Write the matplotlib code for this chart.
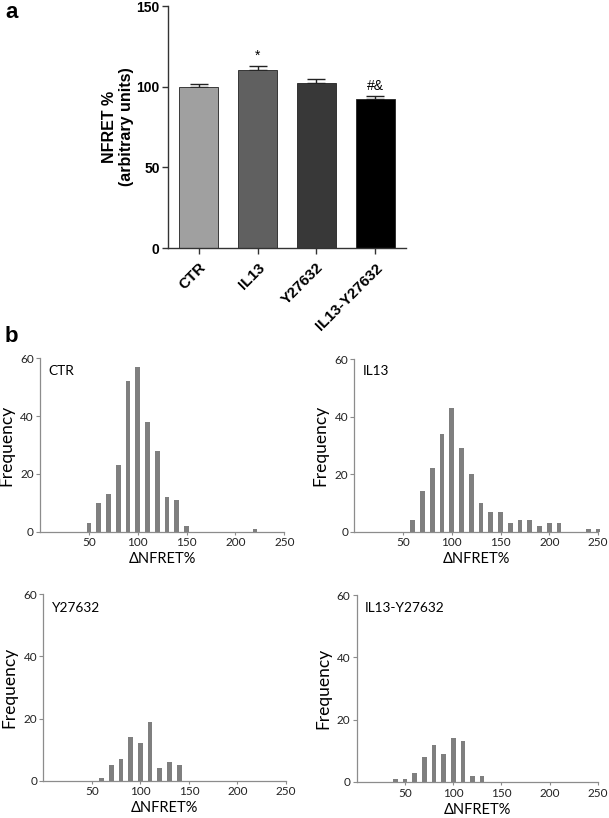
import matplotlib
matplotlib.use("Agg")
import matplotlib.pyplot as plt
import numpy as np

# ---- Panel a data ----
groups = ["CTR", "IL13", "Y27632", "IL13-Y27632"]
means = [100.0, 110.1, 102.3, 92.2]
sems = [1.5, 2.7, 2.3, 2.2]
bar_colors = ["#a0a0a0", "#606060", "#383838", "#000000"]
annotations = ["", "*", "", "#&"]

# ---- Panel b data (histograms) ----
ctr_bins = [50, 60, 70, 80, 90, 100, 110, 120, 130, 140, 150, 220]
ctr_freq = [3, 10, 13, 23, 52, 57, 38, 28, 12, 11, 2, 1]

il13_bins = [60, 70, 80, 90, 100, 110, 120, 130, 140, 150, 160, 170, 180, 190, 200, 210, 240, 250]
il13_freq = [4, 14, 22, 34, 43, 29, 20, 10, 7, 7, 3, 4, 4, 2, 3, 3, 1, 1]

y27_bins = [60, 70, 80, 90, 100, 110, 120, 130, 140]
y27_freq = [1, 5, 7, 14, 12, 19, 4, 6, 5]

comb_bins = [40, 50, 60, 70, 80, 90, 100, 110, 120, 130]
comb_freq = [1, 1, 3, 8, 12, 9, 14, 13, 2, 2]

hist_ticks = [50, 100, 150, 200, 250]
freq_ticks = [0, 20, 40, 60]

W, H = 609, 818
fig = plt.figure(figsize=(W / 100, H / 100), dpi=100)

def fr(l, t, r, b):
    return [l / W, 1 - b / H, (r - l) / W, (b - t) / H]

# ---- Panel a ----
arial = "Liberation Sans"
ax = fig.add_axes(fr(168, 6, 406, 248))
x = np.arange(len(groups))
ax.bar(x, means, width=0.66, color=bar_colors, edgecolor="#222222", linewidth=0.6, zorder=2)
ax.errorbar(x, means, yerr=[np.zeros(len(sems)), sems], fmt="none", ecolor="#222222",
            elinewidth=1.0, capsize=6.5, capthick=1.0, zorder=1)
for xi, m, s, a in zip(x, means, sems, annotations):
    if a:
        ax.text(xi, m + s + 1.8, a, ha="center", va="bottom", fontsize=10, family=arial)
ax.set_xlim(-0.52, 3.52)
ax.set_ylim(0, 150)
ax.set_yticks([0, 50, 100, 150])
ax.set_xticks(x)
ax.set_xticklabels(groups, rotation=45, ha="right", rotation_mode="anchor",
                   fontsize=11, fontweight="bold", family=arial)
for lab in ax.get_yticklabels():
    lab.set_fontweight("bold"); lab.set_family(arial); lab.set_fontsize(10)
ax.spines["top"].set_visible(False)
ax.spines["right"].set_visible(False)
for s in ["left", "bottom"]:
    ax.spines[s].set_color("#333333"); ax.spines[s].set_linewidth(1.0)
ax.tick_params(axis="both", length=4, color="#333333", width=1.0)
ax.tick_params(axis="y", pad=2)
ax.tick_params(axis="x", pad=5)
ax.set_ylabel("NFRET %\n(arbitrary units)", fontsize=11.5, fontweight="bold", family=arial,
              labelpad=2, linespacing=1.1)

fig.text(5 / W, 1 - 12 / H, "a", fontsize=16, fontweight="bold", family=arial, va="center")
fig.text(5 / W, 1 - 336 / H, "b", fontsize=16, fontweight="bold", family=arial, va="center")

# ---- Panel b ----
hfont = "Lato"
panels = [
    ("CTR", ctr_bins, ctr_freq, (40, 358.3, 284.3, 531.7)),
    ("IL13", il13_bins, il13_freq, (354.3, 359, 598, 531.7)),
    ("Y27632", y27_bins, y27_freq, (43.3, 594.3, 286, 780.7)),
    ("IL13-Y27632", comb_bins, comb_freq, (356.7, 595, 598, 782)),
]
for name, bins, freq, (l, t, r, b) in panels:
    hx = fig.add_axes(fr(l, t, r, b))
    hx.bar(bins, freq, width=4.8, color="#7f7f7f", clip_on=False)
    hx.set_xlim(0, 250)
    hx.set_ylim(0, 60)
    hx.set_xticks(hist_ticks)
    hx.set_yticks(freq_ticks)
    hx.spines["top"].set_visible(False)
    hx.spines["right"].set_visible(False)
    for s in ["left", "bottom"]:
        hx.spines[s].set_color("#8c8c8c"); hx.spines[s].set_linewidth(0.9)
    hx.tick_params(axis="y", length=3, color="#8c8c8c", pad=1.5, labelsize=8.5)
    hx.tick_params(axis="x", length=2, color="#8c8c8c", pad=2, labelsize=8.5)
    for lab in hx.get_xticklabels() + hx.get_yticklabels():
        lab.set_family(hfont); lab.set_color("#222222")
    hx.set_xlabel("\u0394NFRET%", fontsize=10.5, family=hfont, labelpad=3)
    hx.set_ylabel("Frequency", fontsize=12.5, family=hfont, labelpad=4)
    hx.text(0.035, 0.928, name, transform=hx.transAxes, fontsize=9.8, family=hfont,
            va="center", ha="left")

fig.savefig("out.png", dpi=100)
